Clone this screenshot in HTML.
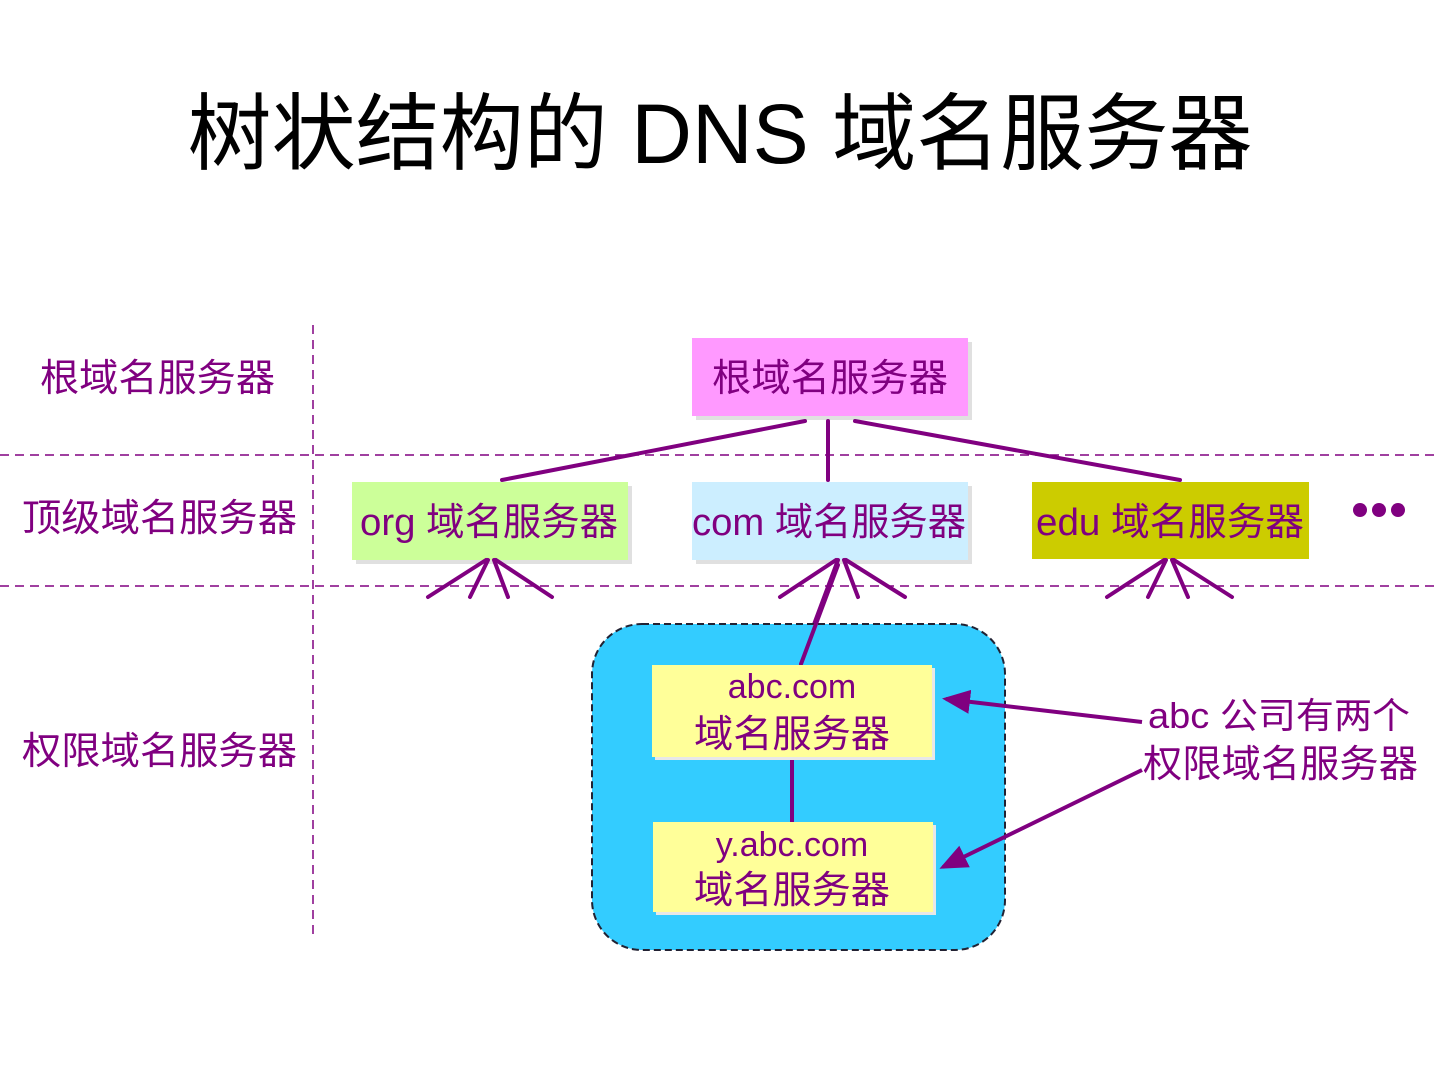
<!DOCTYPE html>
<html><head><meta charset="utf-8"><style>
html,body{margin:0;padding:0;background:#fff;}
svg{display:block;}
text{font-family:"Liberation Sans","Noto Sans CJK SC",sans-serif;}
</style></head><body>
<svg width="1440" height="1080" viewBox="0 0 1440 1080" xmlns="http://www.w3.org/2000/svg">
<defs>
<marker id="ah" markerWidth="8" markerHeight="8" refX="6" refY="4" orient="auto" markerUnits="strokeWidth">
<path d="M0,1 L7,4 L0,7 Z" fill="#800080"/>
</marker>
</defs>
<rect width="1440" height="1080" fill="#fff"/>
<text x="720" y="163" font-size="84" fill="#000" text-anchor="middle" textLength="1065" lengthAdjust="spacingAndGlyphs">树状结构的 DNS 域名服务器</text>

<g stroke="#800080" stroke-width="1.5" stroke-dasharray="9,6" fill="none">
<line x1="0" y1="455" x2="1440" y2="455"/>
<line x1="0" y1="586" x2="1440" y2="586"/>
<line x1="313" y1="325" x2="313" y2="935"/>
</g>

<g fill="#800080" font-size="38">
<text x="40" y="391" textLength="235" lengthAdjust="spacingAndGlyphs">根域名服务器</text>
<text x="22" y="531" textLength="275" lengthAdjust="spacingAndGlyphs">顶级域名服务器</text>
<text x="22" y="764" textLength="275" lengthAdjust="spacingAndGlyphs">权限域名服务器</text>
</g>

<!-- root -->
<rect x="696" y="342" width="276" height="78" fill="#e0e0e0"/>
<rect x="692" y="338" width="276" height="78" fill="#ff99ff"/>
<text x="712" y="391" font-size="38" fill="#800080" textLength="236" lengthAdjust="spacingAndGlyphs">根域名服务器</text>

<!-- top level -->
<rect x="356" y="486" width="276" height="78" fill="#e0e0e0"/>
<rect x="352" y="482" width="276" height="78" fill="#ccff99"/>
<text x="360" y="535" font-size="38" fill="#800080" textLength="258" lengthAdjust="spacingAndGlyphs">org 域名服务器</text>
<rect x="696" y="486" width="276" height="78" fill="#e0e0e0"/>
<rect x="692" y="482" width="276" height="78" fill="#cceeff"/>
<text x="692" y="535" font-size="38" fill="#800080" textLength="274" lengthAdjust="spacingAndGlyphs">com 域名服务器</text>
<rect x="1032" y="482" width="277" height="77" fill="#cccc00"/>
<text x="1036" y="535" font-size="38" fill="#800080" textLength="268" lengthAdjust="spacingAndGlyphs">edu 域名服务器</text>
<g fill="#800080"><circle cx="1360" cy="510" r="7"/><circle cx="1379" cy="510" r="7"/><circle cx="1398" cy="510" r="7"/></g>

<g stroke="#800080" stroke-width="4" fill="none" stroke-linecap="round">
<line x1="805" y1="421" x2="502" y2="480"/>
<line x1="828" y1="421" x2="828" y2="480"/>
<line x1="855" y1="421" x2="1180" y2="480"/>
<!-- org fan -->
<line x1="486" y1="560" x2="428" y2="597"/>
<line x1="488" y1="560" x2="470" y2="597"/>
<line x1="494" y1="560" x2="508" y2="597"/>
<line x1="496" y1="560" x2="552" y2="597"/>
<!-- com fan -->
<line x1="836" y1="560" x2="780" y2="597"/>
<line x1="838" y1="560" x2="800" y2="662"/>
<line x1="844" y1="560" x2="858" y2="597"/>
<line x1="846" y1="560" x2="905" y2="597"/>
<!-- edu fan -->
<line x1="1164" y1="560" x2="1107" y2="597"/>
<line x1="1166" y1="560" x2="1148" y2="597"/>
<line x1="1172" y1="560" x2="1188" y2="597"/>
<line x1="1174" y1="560" x2="1232" y2="597"/>
</g>

<!-- authority group -->
<rect x="592" y="624" width="413" height="326" rx="50" fill="#33ccff" stroke="#223" stroke-width="2" stroke-dasharray="7,4"/>
<line x1="800" y1="586" x2="800" y2="0" stroke="none"/>
<g stroke="#800080" stroke-width="4" stroke-linecap="round">
<line x1="838" y1="565" x2="801" y2="664"/>
<line x1="792" y1="757" x2="792" y2="822"/>
</g>
<rect x="655" y="668" width="280" height="92" fill="#e8e8e8"/>
<rect x="652" y="665" width="280" height="92" fill="#ffff99"/>
<text x="792" y="698" font-size="34" fill="#800080" text-anchor="middle">abc.com</text>
<text x="792" y="747" font-size="38" fill="#800080" text-anchor="middle" textLength="196" lengthAdjust="spacingAndGlyphs">域名服务器</text>
<rect x="656" y="825" width="280" height="90" fill="#e8e8e8"/>
<rect x="653" y="822" width="280" height="90" fill="#ffff99"/>
<text x="792" y="856" font-size="34" fill="#800080" text-anchor="middle">y.abc.com</text>
<text x="792" y="903" font-size="38" fill="#800080" text-anchor="middle" textLength="196" lengthAdjust="spacingAndGlyphs">域名服务器</text>

<g stroke="#800080" stroke-width="4" fill="none">
<line x1="1142" y1="722" x2="946" y2="699" marker-end="url(#ah)"/>
<line x1="1142" y1="770" x2="943" y2="867" marker-end="url(#ah)"/>
</g>
<text x="1148" y="728" font-size="36" fill="#800080" textLength="262" lengthAdjust="spacingAndGlyphs">abc 公司有两个</text>
<text x="1143" y="777" font-size="38" fill="#800080" textLength="275" lengthAdjust="spacingAndGlyphs">权限域名服务器</text>
</svg>
</body></html>
